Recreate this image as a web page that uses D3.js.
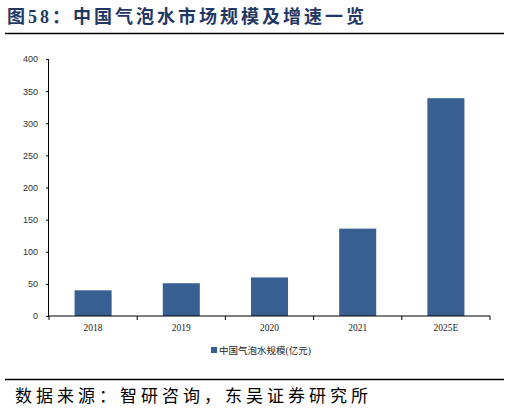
<!DOCTYPE html><html><head><meta charset="utf-8"><script src="https://cdn.jsdelivr.net/npm/d3@7"></script>
<style>body{margin:0;background:#fff}</style></head><body><svg id="c" width="509" height="411"></svg>
<script>
const categories=["2018","2019","2020","2021","2025E"];
const values=[40,51,60,136,339];
const yTicks=[0,50,100,150,200,250,300,350,400];
const seriesName="中国气泡水规模(亿元)";
const svg=d3.select("#c");
const font="'Liberation Serif','Noto Sans CJK SC',serif";
svg.append("text").attr("x",7).attr("y",23).attr("font-family",font).attr("font-weight","bold").attr("font-size",18).attr("letter-spacing",3).attr("fill","#1f3864").text("图58：中国气泡水市场规模及增速一览");
svg.append("line").attr("x1",5).attr("x2",504).attr("y1",33.5).attr("y2",33.5).attr("stroke","#000").attr("stroke-width",1.5);
svg.append("line").attr("x1",5).attr("x2",504).attr("y1",379.5).attr("y2",379.5).attr("stroke","#000").attr("stroke-width",1.5);
svg.append("text").attr("x",15).attr("y",402).attr("font-family",font).attr("font-size",17).attr("letter-spacing",4).attr("fill","#000").text("数据来源：智研咨询，东吴证券研究所");
const x=d3.scaleBand().domain(categories).range([49,490]).paddingInner(0.58).paddingOuter(0.29);
const y=d3.scaleLinear().domain([0,400]).range([316,59]);
svg.selectAll("rect.b").data(values).join("rect").attr("x",(d,i)=>x(categories[i])).attr("width",x.bandwidth()).attr("y",d=>y(d)).attr("height",d=>y(0)-y(d)).attr("fill","#375f92");
const ya=svg.append("g").attr("transform","translate(49,0)").call(d3.axisLeft(y).tickValues(yTicks).tickSize(3).tickPadding(8));
ya.selectAll("text").attr("font-family","Liberation Sans").attr("font-size",9).attr("fill","#333");
const xa=svg.append("g").attr("transform","translate(0,316)");
xa.append("line").attr("x1",49).attr("x2",490).attr("stroke","#000");
xa.selectAll("line.t").data(d3.range(6)).join("line").attr("x1",i=>49+i*(441/5)).attr("x2",i=>49+i*(441/5)).attr("y1",0).attr("y2",4).attr("stroke","#000");
xa.selectAll("text").data(categories).join("text").attr("x",d=>x(d)+x.bandwidth()/2).attr("y",15).attr("text-anchor","middle").attr("font-family",font).attr("font-size",9.5).attr("fill","#222").text(d=>d);
ya.select(".domain").attr("d","M-0.5,59V316.5").attr("stroke","#000");
ya.selectAll(".tick line").attr("stroke","#000");
svg.append("rect").attr("x",211).attr("y",347).attr("width",6).attr("height",6).attr("fill","#375f92");
svg.append("text").attr("x",219).attr("y",353.5).attr("font-family",font).attr("font-size",9.5).attr("fill","#222").text(seriesName);
</script></body></html>
